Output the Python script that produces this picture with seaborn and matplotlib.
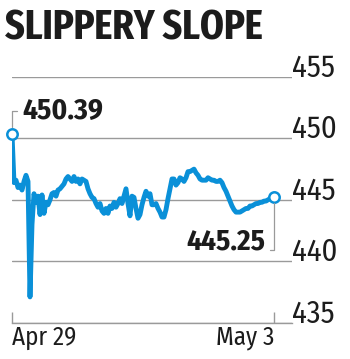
import numpy as np
import pandas as pd
import matplotlib
matplotlib.use("Agg")
import matplotlib.pyplot as plt
import seaborn as sns

# ---- data ----
title = "SLIPPERY SLOPE"
date_labels = ["Apr 29", "May 3"]
y_ticks = [435, 440, 445, 450, 455]
prices = [
    450.39, 446.4, 446.6, 446.0, 446.2, 445.8, 446.5, 447.0, 446.5, 437.1,
    443.0, 445.5, 444.8, 445.3, 443.8, 445.4, 443.9, 444.8, 444.6, 445.0,
    445.5, 445.6, 445.3, 445.8, 445.9, 446.1, 446.3, 446.7, 446.9, 446.7,
    446.5, 446.9, 446.5, 446.7, 446.3, 446.7, 446.6, 446.5, 445.9, 445.5,
    445.2, 445.1, 444.7, 444.4, 444.7, 444.1, 443.9, 444.3, 443.9, 444.5,
    444.3, 444.8, 444.4, 444.7, 445.1, 444.7, 445.3, 445.9, 444.7, 443.7,
    445.3, 445.2, 444.3, 443.5, 443.8, 444.6, 445.2, 445.7, 445.3, 445.5,
    444.6, 444.6, 444.7, 444.3, 444.0, 443.6, 443.6, 444.2, 445.1, 445.9,
    446.7, 446.7, 446.2, 446.4, 446.8, 446.7, 446.5, 446.8, 447.3, 447.3,
    447.4, 447.5, 447.2, 447.0, 446.7, 446.6, 446.6, 446.6, 446.8, 446.7,
    446.6, 446.6, 446.5, 446.5, 446.6, 446.4, 446.0, 445.7, 445.3, 444.9,
    444.5, 444.2, 444.0, 444.0, 444.0, 444.1, 444.2, 444.3, 444.3, 444.5,
    444.5, 444.6, 444.7, 444.7, 444.8, 444.8, 444.9, 444.9, 445.0, 445.1,
    445.2, 445.25,
]

# ---- style ----
BLUE = "#0a90d8"
GRID = "#9a9a9a"
INK = "#1c1c1c"
COND = ["Fira Sans Condensed", "Roboto Condensed", "DejaVu Sans"]
XCOND = ["Fira Sans Extra Condensed", "Fira Sans Condensed", "Roboto Condensed", "DejaVu Sans"]

sns.set_theme(style="white")
plt.rcParams["font.family"] = COND
plt.rcParams["text.color"] = INK

df = pd.DataFrame({"t": np.arange(len(prices)), "price": prices})
n = len(prices)

fig = plt.figure(figsize=(3.5, 3.59), dpi=100)
fig.patch.set_facecolor("white")
ax = fig.add_axes([12 / 350, 36.3 / 359, 280 / 350, 245.7 / 359])
ax.set_facecolor("white")

sns.lineplot(data=df, x="t", y="price", color=BLUE, linewidth=3.5,
             ax=ax, zorder=3, solid_joinstyle="round", solid_capstyle="round")

# end-point markers
ends = df.iloc[[0, -1]]
ax.plot(ends["t"], ends["price"], linestyle="none", marker="o", ms=7.5,
        mfc="white", mec=BLUE, mew=1.8, zorder=5, clip_on=False)

# annotations
ax.annotate(f"{prices[0]:.2f}", xy=(0, prices[0]), xytext=(7.5, 16.5),
            textcoords="offset points", ha="left", va="center",
            fontsize=21, fontweight="bold", family=COND, color=INK,
            arrowprops=dict(arrowstyle="-", color=GRID, lw=0.9,
                            relpos=(0, 0.5), shrinkA=1.5, shrinkB=4.5,
                            connectionstyle="angle,angleA=0,angleB=90,rad=0"),
            annotation_clip=False, zorder=6)
ax.annotate(f"{prices[-1]:.2f}", xy=(n - 1, prices[-1]), xytext=(-6.5, -32.5),
            textcoords="offset points", ha="right", va="center",
            fontsize=21, fontweight="bold", family=COND, color=INK,
            arrowprops=dict(arrowstyle="-", color=GRID, lw=0.9,
                            relpos=(1, 0.2), shrinkA=1.5, shrinkB=4.5,
                            connectionstyle="angle,angleA=0,angleB=90,rad=0"),
            annotation_clip=False, zorder=6)

# axes
ax.set_ylim(y_ticks[0], y_ticks[-1])
ax.set_xlim(0, (n - 1) * 280 / 262)
ax.set_yticks(y_ticks)
ax.yaxis.tick_right()
ax.tick_params(axis="y", length=0, pad=0, labelsize=22, labelcolor=INK)
for lab in ax.get_yticklabels():
    lab.set_va("baseline")
    lab.set_family(COND)
ax.set_xticks([0, n - 1])
ax.set_xticklabels(date_labels)
ax.tick_params(axis="x", direction="in", length=8, width=1, color=GRID,
               pad=2, labelsize=18, labelcolor=INK, bottom=True)
xl = ax.get_xticklabels()
xl[0].set_ha("left")
xl[1].set_ha("right")
for lab in xl:
    lab.set_family(COND)
ax.set_xlabel("")
ax.set_ylabel("")
ax.grid(axis="y", color=GRID, linewidth=1)
ax.grid(axis="x", visible=False)
for s in ["top", "left", "right"]:
    ax.spines[s].set_visible(False)
ax.spines["bottom"].set_color(GRID)
ax.spines["bottom"].set_linewidth(1)
ax.set_axisbelow(True)

fig.text(5 / 350, 1 - 39 / 359, title, ha="left", va="baseline",
         fontsize=30, fontweight="bold", family=XCOND, color=INK)

fig.savefig("out.png", dpi=100, facecolor="white")
